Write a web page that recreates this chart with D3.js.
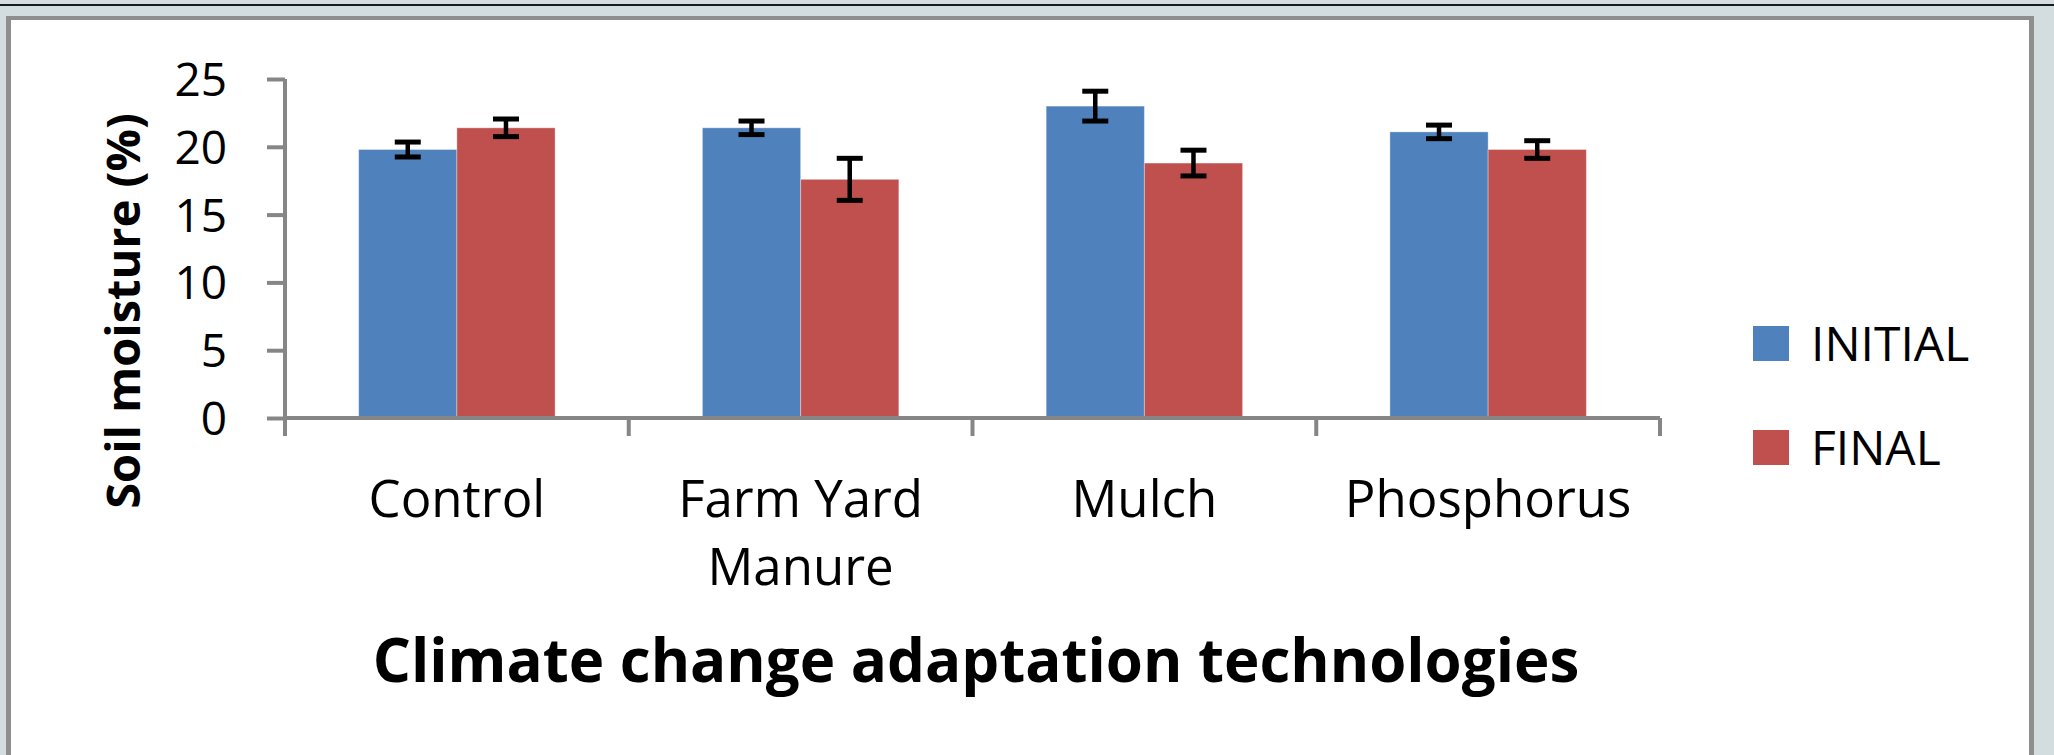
<!DOCTYPE html>
<html>
<head>
<meta charset="utf-8">
<script src="https://cdn.jsdelivr.net/npm/d3@7"></script>
<style>
  body { margin: 0; background: #d3dcdf; }
  svg { display: block; font-family: 'Open Sans', sans-serif; }
</style>
</head>
<body>
<svg id="chart"></svg>
<script>
// Soil moisture per technology
const categories = ['Control', 'Farm Yard Manure', 'Mulch', 'Phosphorus'];
const seriesNames = ['INITIAL', 'FINAL'];
const initialValues = [19.8, 21.4, 23.0, 21.1];
const finalValues = [21.4, 17.6, 18.8, 19.8];
const initialErrors = [0.55, 0.5, 1.1, 0.5];
const finalErrors = [0.65, 1.55, 0.95, 0.65];
const yTicks = [0, 5, 10, 15, 20, 25];

const colors = { INITIAL: '#4f81bd', FINAL: '#c0504d' };

const W = 2054;
const H = 755;
const plot = { left: 285, right: 1660, top: 79, bottom: 418 };
const tickLen = 18;

const data = categories.map((c, i) => ({
  category: c,
  values: [
    { series: 'INITIAL', value: initialValues[i], err: initialErrors[i] },
    { series: 'FINAL', value: finalValues[i], err: finalErrors[i] }
  ]
}));

const svg = d3.select('#chart').
  attr('width', W).
  attr('height', H);

// window frame
svg.append('rect').
  attr('width', W).attr('height', H).
  attr('fill', '#d3dcdf');
svg.append('rect').
  attr('x', 0).attr('y', 4).attr('width', W).attr('height', 2).
  attr('fill', '#1a1a1a');
svg.append('rect').
  attr('x', 6).attr('y', 16).attr('width', 2028).attr('height', H).
  attr('fill', '#8e8e8e');
svg.append('rect').
  attr('x', 11).attr('y', 20).attr('width', 2018).attr('height', H).
  attr('fill', '#ffffff');

const x = d3.scaleBand().
  domain(categories).
  range([plot.left, plot.right]).
  padding(0);

// gap width 150% of a bar -> bars take 2/3.5 of the band
const gap = x.bandwidth() * 1.5 / 3.5;
const x1 = d3.scaleBand().
  domain(seriesNames).
  range([gap / 2, x.bandwidth() - gap / 2]).
  padding(0);

const y = d3.scaleLinear().
  domain([0, 25]).
  range([plot.bottom, plot.top]);

// bars
const groups = svg.append('g').
  selectAll('g').
  data(data).
  enter().append('g').
  attr('transform', d => `translate(${x(d.category)},0)`);

groups.selectAll('rect').
  data(d => d.values).
  enter().append('rect').
  attr('x', d => x1(d.series)).
  attr('y', d => y(d.value)).
  attr('width', x1.bandwidth()).
  attr('height', d => y(0) - y(d.value)).
  attr('fill', d => colors[d.series]).
  attr('stroke', 'rgba(255,255,255,0.35)').
  attr('stroke-width', 1);

// error bars
const capHalf = 13;
const err = groups.selectAll('g.err').
  data(d => d.values).
  enter().append('g').
  attr('class', 'err').
  attr('stroke', '#000').
  attr('stroke-width', 5);
err.append('line').
  attr('x1', d => x1(d.series) + x1.bandwidth() / 2).
  attr('x2', d => x1(d.series) + x1.bandwidth() / 2).
  attr('y1', d => y(d.value + d.err)).
  attr('y2', d => y(d.value - d.err)).
  attr('stroke-width', 4.5);
err.append('line').
  attr('x1', d => x1(d.series) + x1.bandwidth() / 2 - capHalf).
  attr('x2', d => x1(d.series) + x1.bandwidth() / 2 + capHalf).
  attr('y1', d => y(d.value + d.err)).
  attr('y2', d => y(d.value + d.err));
err.append('line').
  attr('x1', d => x1(d.series) + x1.bandwidth() / 2 - capHalf).
  attr('x2', d => x1(d.series) + x1.bandwidth() / 2 + capHalf).
  attr('y1', d => y(d.value - d.err)).
  attr('y2', d => y(d.value - d.err));

// y axis
const yAxis = d3.axisLeft(y).
  tickValues(yTicks).
  tickSize(tickLen).
  tickPadding(40).
  tickSizeOuter(0);
const gy = svg.append('g').
  attr('transform', `translate(${plot.left},0)`).
  call(yAxis);
gy.select('.domain').remove();
gy.append('line').
  attr('x1', 0).attr('x2', 0).
  attr('y1', plot.top).attr('y2', plot.bottom + tickLen);
gy.selectAll('line').
  attr('stroke', '#868686').
  attr('stroke-width', 4);
gy.selectAll('text').
  attr('fill', '#000').
  attr('font-size', 46).
  attr('font-family', 'Open Sans').
  attr('dy', '0.36em');

// x axis: ticks at category boundaries
const boundaries = categories.map(c => x(c)).concat([plot.right]);
const gx = svg.append('g');
gx.append('line').
  attr('x1', plot.left).attr('x2', plot.right).
  attr('y1', plot.bottom).attr('y2', plot.bottom);
gx.selectAll('line.tick').
  data(boundaries).
  enter().append('line').
  attr('class', 'tick').
  attr('x1', d => d).attr('x2', d => d).
  attr('y1', plot.bottom).attr('y2', plot.bottom + tickLen);
gx.selectAll('line').
  attr('stroke', '#868686').
  attr('stroke-width', 4);

// category labels, wrapped like Excel
const labelLines = { 'Farm Yard Manure': ['Farm Yard', 'Manure'] };
const labels = gx.selectAll('text').
  data(categories).
  enter().append('text').
  attr('x', d => x(d) + x.bandwidth() / 2).
  attr('y', 517).
  attr('text-anchor', 'middle').
  attr('font-size', 51).
  attr('fill', '#000');
labels.each(function (d) {
  const lines = labelLines[d] || [d];
  d3.select(this).selectAll('tspan').
    data(lines).
    enter().append('tspan').
    attr('x', x(d) + x.bandwidth() / 2).
    attr('dy', (l, i) => i === 0 ? 0 : 68).
    text(l => l);
});

// axis titles
svg.append('text').
  text('Soil moisture (%)').
  attr('transform', `translate(140, 311) rotate(-90)`).
  attr('text-anchor', 'middle').
  attr('font-size', 47).
  attr('font-weight', 'bold').
  attr('fill', '#000');

svg.append('text').
  text('Climate change adaptation technologies').
  attr('x', 976).
  attr('y', 682).
  attr('text-anchor', 'middle').
  attr('font-size', 60).
  attr('font-weight', 'bold').
  attr('fill', '#000');

// legend
const legend = svg.append('g').
  attr('transform', 'translate(1753, 326)');
const items = legend.selectAll('g').
  data(seriesNames).
  enter().append('g').
  attr('transform', (d, i) => `translate(0, ${i * 104})`);
items.append('rect').
  attr('width', 36).
  attr('height', 35).
  attr('fill', d => colors[d]);
items.append('text').
  attr('x', 58).
  attr('y', 35).
  attr('font-size', 48).
  attr('fill', '#000').
  text(d => d);
</script>
</body>
</html>
